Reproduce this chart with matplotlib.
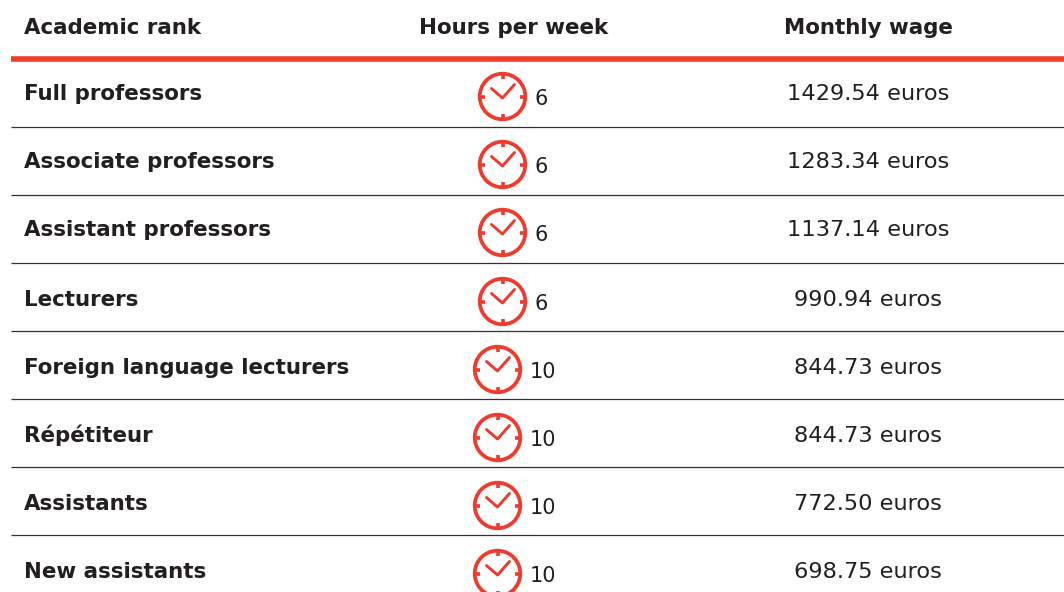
import matplotlib
matplotlib.use('Agg')
import matplotlib.pyplot as plt
from matplotlib.patches import Circle

ranks = ['Full professors', 'Associate professors', 'Assistant professors', 'Lecturers',
         'Foreign language lecturers', 'Répétiteur', 'Assistants', 'New assistants']
hours = [6, 6, 6, 6, 10, 10, 10, 10]
wages = ['1429.54 euros', '1283.34 euros', '1137.14 euros', '990.94 euros',
         '844.73 euros', '844.73 euros', '772.50 euros', '698.75 euros']
headers = ['Academic rank', 'Hours per week', 'Monthly wage']

red = '#ef3b2d'
dark = '#231f20'
row_y = [94, 162, 230, 299, 367, 435, 503, 571]
line_y = [127, 195, 263, 331, 399, 467, 535]

plt.rcParams['font.family'] = ['DejaVu Sans']

fig = plt.figure(figsize=(10.64, 5.92), dpi=100)
ax = fig.add_axes([0, 0, 1, 1])
ax.set_xlim(0, 1064)
ax.set_ylim(592, 0)
ax.axis('off')

# header
ax.text(24, 28, headers[0], fontsize=15.4, fontweight='bold', color=dark, va='center')
ax.text(514, 28, headers[1], fontsize=15.4, fontweight='bold', color=dark, va='center', ha='center')
ax.text(868, 28, headers[2], fontsize=15.4, fontweight='bold', color=dark, va='center', ha='center')
ax.plot([11, 1064], [58.5, 58.5], color=red, lw=4, solid_capstyle='butt')

for y in line_y:
    ax.plot([11, 1064], [y, y], color='#333333', lw=0.9, solid_capstyle='butt')


def clock(cx, cy):
    ax.add_patch(Circle((cx, cy), 22.8, fill=False, ec=red, lw=2.7))
    # hands
    ax.plot([cx - 11, cx, cx + 12], [cy - 8, cy + 1.5, cy - 12], color=red, lw=2.1,
            solid_joinstyle='round', solid_capstyle='round')
    # tick marks
    for dx, dy in [(0, -1), (0, 1), (-1, 0), (1, 0)]:
        ax.plot([cx + dx * 17.5, cx + dx * 22], [cy + dy * 17.5, cy + dy * 22], color=red, lw=2.6,
                solid_capstyle='butt')


for rank, hour, wage, y in zip(ranks, hours, wages, row_y):
    ax.text(24, y + 0.5, rank, fontsize=15.4, fontweight='bold', color=dark, va='center')
    cx = 502.5 if hour == 6 else 497.5
    clock(cx, y + 2.5)
    ax.text(cx + 32, y + 5, str(hour), fontsize=15, color=dark, va='center')
    ax.text(868, y + 0.5, wage, fontsize=16.2, color=dark, va='center', ha='center')

fig.savefig('out.png', dpi=100)
